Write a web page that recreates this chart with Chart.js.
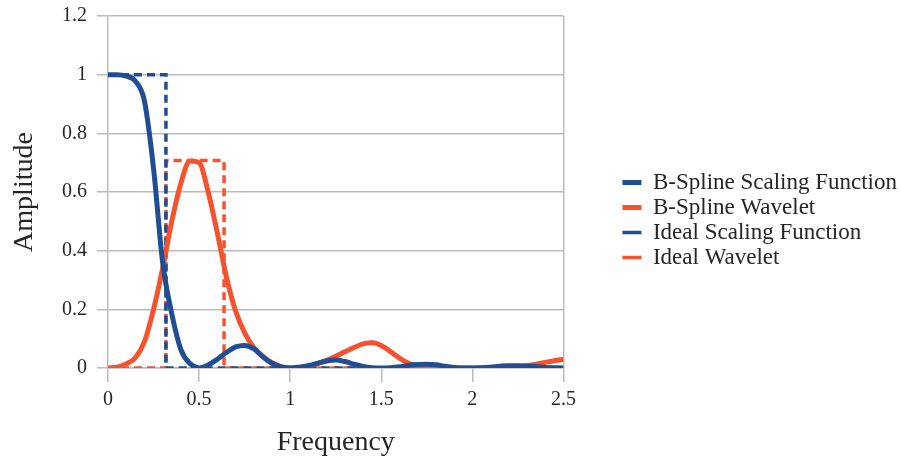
<!DOCTYPE html>
<html><head><meta charset="utf-8">
<script src="https://cdn.jsdelivr.net/npm/chart.js@4.4.0/dist/chart.umd.min.js"></script>
<style>html,body{margin:0;padding:0;background:#fff}</style>
</head><body>
<canvas id="c" width="901" height="457"></canvas>
<script>
const freq = [0,0.05,0.1,0.15,0.2,0.25,0.3,0.35,0.4,0.45,0.5,0.55,0.6,0.65,0.7,0.75,0.8,0.85,0.9,0.95,1,1.05,1.1,1.15,1.2,1.25,1.3,1.35,1.4,1.45,1.5,1.55,1.6,1.65,1.7,1.75,1.8,1.85,1.9,1.95,2,2.05,2.1,2.15,2.2,2.25,2.3,2.35,2.4,2.45,2.5];
const splineScaling = [1.0,1.0,0.995,0.978,0.91,0.68,0.36,0.185,0.063,0.015,0.0,0.01,0.03,0.053,0.072,0.077,0.066,0.038,0.016,0.004,0.0,0.003,0.008,0.016,0.024,0.027,0.022,0.013,0.005,0.001,0.0,0.001,0.004,0.009,0.012,0.013,0.011,0.006,0.002,0.0,0.0,0.001,0.003,0.006,0.008,0.008,0.007,0.005,0.002,0.001,0.0];
const splineWavelet = [0.0,0.003,0.014,0.035,0.09,0.2,0.34,0.5,0.63,0.706,0.70,0.6,0.46,0.31,0.195,0.12,0.07,0.04,0.018,0.005,0.0,0.002,0.007,0.015,0.026,0.04,0.055,0.07,0.082,0.086,0.077,0.056,0.034,0.016,0.006,0.001,0.0,0.0,0.0,0.0,0.0,0.0,0.0,0.0,0.001,0.004,0.008,0.013,0.019,0.025,0.03];
const idealScalingX = [0,0.318,0.318,2.5];
const idealScalingY = [1,1,0,0];
const idealWaveletX = [0,0.318,0.318,0.637,0.637,2.5];
const idealWaveletY = [0,0,0.707,0.707,0,0];
const xTicks = [0,0.5,1,1.5,2,2.5];
const yTicks = [0,0.2,0.4,0.6,0.8,1,1.2];
const seriesNames = ['B-Spline Scaling Function','B-Spline Wavelet','Ideal Scaling Function','Ideal Wavelet'];

const BLUE = '#1F4E94', ORANGE = '#F4532E', GRID = '#BBBBBB', TXT = '#262626';
const FONT = "'Liberation Serif', 'Times New Roman', serif";
const pts = (xs, ys) => xs.map((x, i) => ({x: x, y: ys[i]}));
const fmt = v => String(+Number(v).toFixed(2));

new Chart(document.getElementById('c'), {
  type: 'line',
  data: {
    datasets: [
      {label: seriesNames[0], data: pts(freq, splineScaling), borderColor: BLUE, backgroundColor: BLUE, borderWidth: 5, pointRadius: 0, cubicInterpolationMode: 'monotone', fill: false},
      {label: seriesNames[1], data: pts(freq, splineWavelet), borderColor: ORANGE, backgroundColor: ORANGE, borderWidth: 5, pointRadius: 0, cubicInterpolationMode: 'monotone', fill: false},
      {label: seriesNames[2], data: pts(idealScalingX, idealScalingY), borderColor: BLUE, backgroundColor: BLUE, borderWidth: 3.5, borderDash: [8, 5], pointRadius: 0, tension: 0, fill: false},
      {label: seriesNames[3], data: pts(idealWaveletX, idealWaveletY), borderColor: ORANGE, backgroundColor: ORANGE, borderWidth: 3.5, borderDash: [8, 5], pointRadius: 0, tension: 0, fill: false}
    ]
  },
  options: {
    responsive: false,
    animation: false,
    devicePixelRatio: 1,
    layout: {padding: {top: 16, right: -6, left: 0, bottom: 0}},
    plugins: {
      tooltip: {enabled: false},
      legend: {
        position: 'right',
        align: 'start',
        maxWidth: 320,
        title: {display: true, text: '', font: {size: 10, lineHeight: 1}, padding: {top: 143, bottom: 0}},
        labels: {
          usePointStyle: true,
          pointStyle: 'line',
          pointStyleWidth: 19,
          font: {family: FONT, size: 23},
          color: TXT,
          padding: 2
        }
      }
    },
    scales: {
      x: {
        type: 'linear', min: 0, max: 2.5,
        afterBuildTicks: s => { s.ticks = xTicks.map(v => ({value: v})); },
        afterFit: s => { s.height = 89; s.paddingLeft = 0; s.paddingRight = 0; },
        ticks: {font: {family: FONT, size: 20}, color: TXT, padding: 6, maxRotation: 0, callback: fmt},
        grid: {color: c => (c.tick && c.tick.value === 2.5) ? GRID : 'rgba(0,0,0,0)', tickColor: GRID, tickLength: 14, lineWidth: 1.5},
        border: {color: GRID, width: 1.5},
        title: {display: true, text: 'Frequency', font: {family: FONT, size: 28, lineHeight: 1}, color: TXT, padding: {top: 0, bottom: 0}}
      },
      y: {
        min: 0, max: 1.2,
        afterBuildTicks: s => { s.ticks = yTicks.map(v => ({value: v})); },
        afterFit: s => { s.width = 108; s.paddingTop = 0; s.paddingBottom = 0; },
        ticks: {font: {family: FONT, size: 20}, color: TXT, padding: 10, callback: fmt},
        grid: {color: GRID, tickColor: GRID, tickLength: 11, lineWidth: 1.5},
        border: {color: GRID, width: 1.5},
        title: {display: true, text: 'Amplitude', font: {family: FONT, size: 28}, color: TXT, padding: {top: 8, bottom: 0}}
      },
      y2: {
        position: 'right', display: true,
        grid: {display: false}, ticks: {display: false}, border: {display: false},
        afterFit: s => { s.width = 57; s.paddingTop = 0; s.paddingBottom = 0; }
      }
    }
  }
});
</script>
</body></html>
